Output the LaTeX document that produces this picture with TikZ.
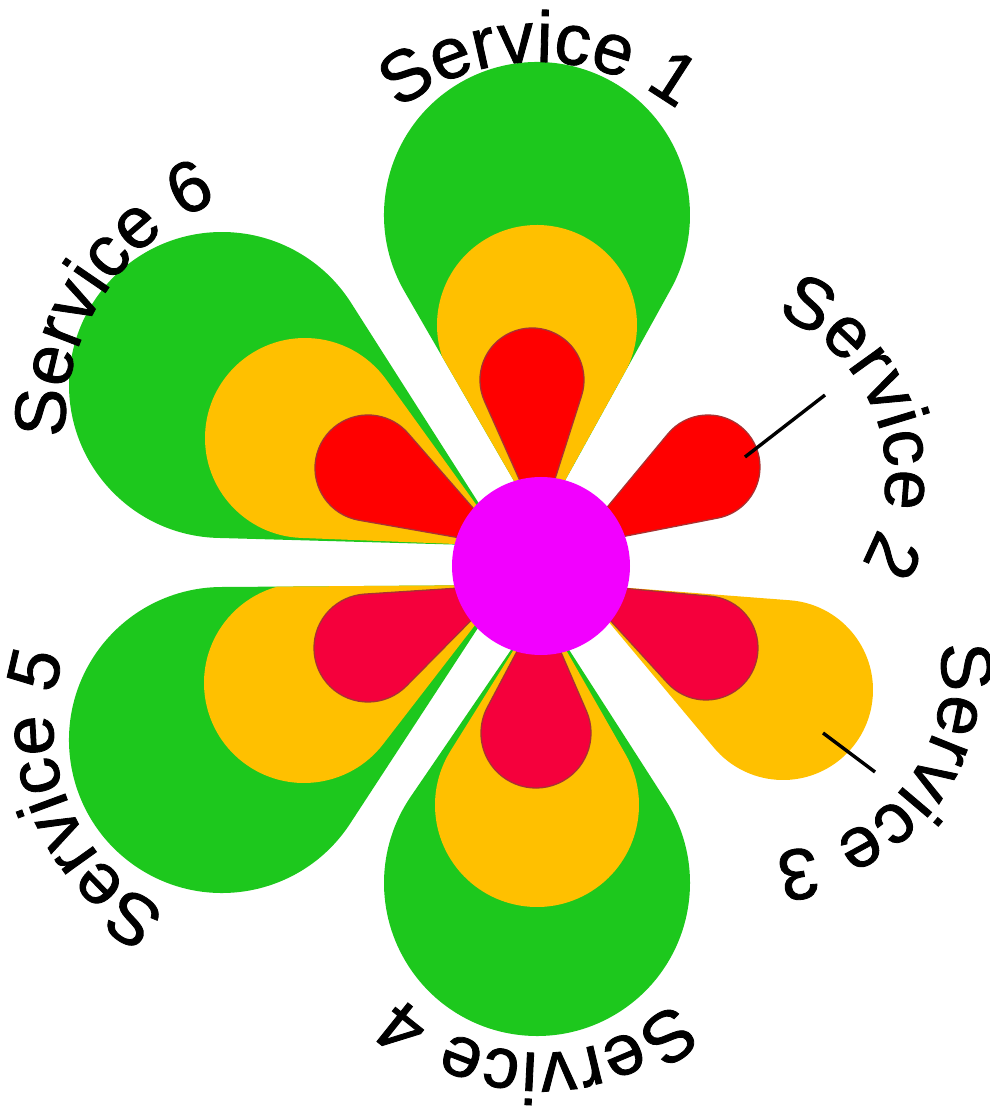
\documentclass[tikz,border=0pt]{standalone}
\usepackage{fontspec}
\setmainfont{Liberation Sans}
\newfontfamily\lblfam[FakeBold=1.2]{Liberation Sans}
\usetikzlibrary{decorations.text}
\definecolor{petgreen}{HTML}{1DC81D}
\definecolor{petyellow}{HTML}{FFC000}
\definecolor{petred}{HTML}{FF0000}
\definecolor{petcrimson}{HTML}{F5003C}
\definecolor{petedge}{HTML}{A83232}
\definecolor{hubpink}{HTML}{F200FF}
\newcommand\leafdelta{1}
% #1,#2 tip (image px), #3,#4 round centre (image px), #5 radius
\newcommand\mkleaf[5]{%
  \pgfmathsetmacro\lTx{#1-541}%
  \pgfmathsetmacro\lTy{566-#2}%
  \pgfmathsetmacro\lPx{#3-541}%
  \pgfmathsetmacro\lPy{566-#4}%
  \pgfmathsetmacro\lth{atan2(\lPy-\lTy,\lPx-\lTx)}%
  \pgfmathsetmacro\lD{veclen((\lPx-\lTx)/10,(\lPy-\lTy)/10)*10}%
  \pgfmathsetmacro\lal{asin(#5/\lD)}%
  \pgfmathsetmacro\lL{\lD*cos(\lal)}%
  \pgfmathsetmacro\lEx{\lPx+#5*cos(\lth+90+\lal)}%
  \pgfmathsetmacro\lEy{\lPy+#5*sin(\lth+90+\lal)}%
  \pgfmathsetmacro\lsa{\lth+90+\lal}%
  \pgfmathsetmacro\lea{\lth-90-\lal}%
  \pgfmathsetmacro\la{0.4*\lL}%
  \pgfmathsetmacro\lb{0.35*\lL}%
  \pgfmathsetmacro\lca{\lth+\leafdelta*\lal}%
  \pgfmathsetmacro\lcb{\lth+\lal+180}%
  \pgfmathsetmacro\lcc{\lth-\lal+180}%
  \pgfmathsetmacro\lcd{\lth-\leafdelta*\lal}%
  \edef\leafpath{(\lTx pt,\lTy pt) .. controls +(\lca:\la pt) and +(\lcb:\lb pt) .. (\lEx pt,\lEy pt) arc[start angle=\lsa, end angle=\lea, radius=#5pt] .. controls +(\lcc:\lb pt) and +(\lcd:\la pt) .. (\lTx pt,\lTy pt) -- cycle}%
}
\newcommand\lblfont{\lblfam\fontsize{72}{72}\selectfont}
\begin{document}
\begin{tikzpicture}[x=1pt,y=1pt,
  redleaf/.style={fill=petred,draw=petedge,line width=1.3pt},
  crimleaf/.style={fill=petcrimson,draw=petedge,line width=1.3pt},
  hubdisc/.style={circle,fill=hubpink,minimum size=178pt,inner sep=0pt},
  leader/.style={draw=black,line width=3.4pt},
  lbl/.style={decorate,decoration={text along path,text align={center},text={|\lblfont|#1}}}]
\useasboundingbox (-541pt,-542pt) rectangle (449pt,566pt);
% top petal (Service 1)
\begin{scope}
\mkleaf{540}{526}{537}{215}{153}\fill[petgreen]\leafpath;\clip\leafpath;
\mkleaf{540}{526}{537}{325}{100}\fill[petyellow]\leafpath;\clip\leafpath;
\mkleaf{540}{526}{532}{380}{52}\path[redleaf]\leafpath;
\end{scope}
% upper left petal (Service 6)
\begin{scope}
\mkleaf{506}{546}{222}{385}{153}\fill[petgreen]\leafpath;\clip\leafpath;
\mkleaf{506}{546}{305}{438}{100}\fill[petyellow]\leafpath;\clip\leafpath;
\mkleaf{506}{546}{368}{468}{53}\path[redleaf]\leafpath;
\end{scope}
% lower left petal (Service 5)
\begin{scope}
\mkleaf{506}{585}{222}{740}{153}\fill[petgreen]\leafpath;\clip\leafpath;
\mkleaf{506}{585}{304}{683}{100}\fill[petyellow]\leafpath;\clip\leafpath;
\mkleaf{506}{585}{368}{648}{54}\path[crimleaf]\leafpath;
\end{scope}
% bottom petal (Service 4)
\begin{scope}
\mkleaf{541}{606}{537}{883}{153}\fill[petgreen]\leafpath;\clip\leafpath;
\mkleaf{541}{606}{537}{805}{102}\fill[petyellow]\leafpath;\clip\leafpath;
\mkleaf{541}{606}{536}{733}{55}\path[crimleaf]\leafpath;
\end{scope}
% lower right petal (Service 3)
\begin{scope}
\mkleaf{577}{584}{783}{690}{90}\fill[petyellow]\leafpath;\clip\leafpath;
\mkleaf{577}{584}{706}{648}{52}\path[crimleaf]\leafpath;
\end{scope}
% upper right petal (Service 2)
\mkleaf{575}{546}{708}{467}{52}\path[redleaf]\leafpath;
% hub
\node[hubdisc] (hub) at (0,0) {};
% labels (text centred on arcs)
\path[lbl=Service 1] ([shift={(-3pt,277pt)}]170:227pt) arc[start angle=170,end angle=10,radius=227pt];
\path[lbl=Service 2] ([shift={(174pt,91pt)}]99:171pt) arc[start angle=99,end angle=-61,radius=171pt];
\path[lbl=Service 3] ([shift={(226pt,-111pt)}]41.7:175pt) arc[start angle=41.7,end angle=-118.3,radius=175pt];
\path[lbl=Service 4] ([shift={(-1pt,-289pt)}]-11:198pt) arc[start angle=-11,end angle=-171,radius=198pt];
\path[lbl=Service 5] ([shift={(-276pt,-157pt)}]282:212pt) arc[start angle=282,end angle=122,radius=212pt];
\path[lbl=Service 6] ([shift={(-233pt,139pt)}]227.1:243pt) arc[start angle=227.1,end angle=67.1,radius=243pt];
% leader lines
\coordinate (l2a) at (284pt,171pt);
\coordinate (l2b) at (204pt,109pt);
\coordinate (l3a) at (282pt,-167pt);
\coordinate (l3b) at (334pt,-206pt);
\draw[leader] (l2a) -- (l2b);
\draw[leader] (l3a) -- (l3b);
\end{tikzpicture}
\end{document}
